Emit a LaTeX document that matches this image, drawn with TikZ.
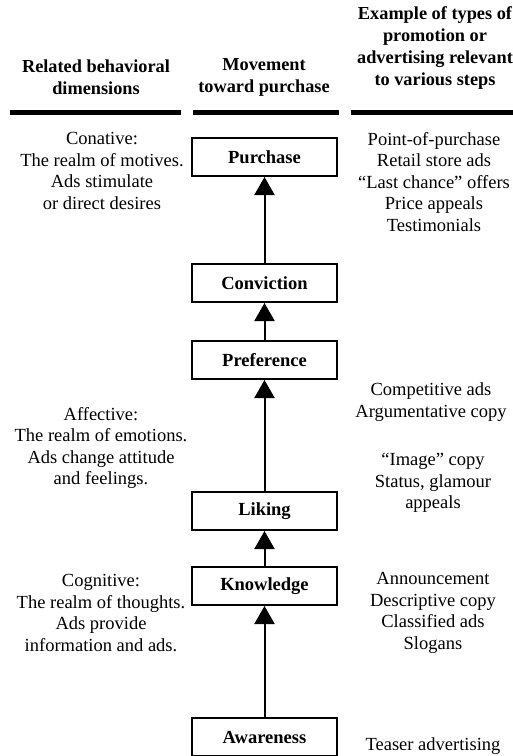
\documentclass[tikz,border=0pt]{standalone}
\usepackage{fontspec}
\setmainfont{Liberation Serif}
\usetikzlibrary{positioning,arrows.meta}

\begin{document}
\begin{tikzpicture}[x=1pt,y=-1pt,
        stage/.style={draw,line width=2pt,minimum width=145pt,minimum height=38pt,inner sep=0pt,font=\fontsize{18.5}{21.5}\selectfont\bfseries},
        txt/.style={align=center,inner sep=0pt,font=\fontsize{18.5}{21.5}\selectfont},
        head/.style={align=center,inner sep=0pt,font=\fontsize{18.3}{22}\selectfont\bfseries},
        bar/.style={line width=5pt},
        up/.style={line width=2pt,-{Triangle[width=20pt,length=18pt]}}]
    \useasboundingbox (0,0) rectangle (513,756);
    \node[head] (dimhead) at (96,77.5) {Related behavioral\\dimensions};
    \node[head] (movehead) at (264,77.5) {Movement\\toward purchase};
    \node[head] (promohead) at (435,48.5) {Example of types of\\promotion or\\advertising relevant\\to various steps};
    \draw[bar] (10,112.5) -- (181,112.5);
    \draw[bar] (193,112.5) -- (339,112.5);
    \draw[bar] (351,112.5) -- (520,112.5);
    \node[stage] (purchase) at (264.5,157) {Purchase};
    \node[stage] (conviction) at (264.5,283) {Conviction};
    \node[stage] (preference) at (264.5,360) {Preference};
    \node[stage] (liking) at (264.5,511) {Liking};
    \node[stage] (knowledge) at (264.5,586) {Knowledge};
    \node[stage] (awareness) at (264.5,737) {Awareness};
    \draw[up] (awareness) -- (knowledge);
    \draw[up] (knowledge) -- (liking);
    \draw[up] (liking) -- (preference);
    \draw[up] (preference) -- (conviction);
    \draw[up] (conviction) -- (purchase);
    \node[txt] (conative) at (102,171) {Conative:\\The realm of motives.\\Ads stimulate\\or direct desires};
    \node[txt] (affective) at (101,448) {Affective:\\The realm of emotions.\\Ads change attitude\\and feelings.};
    \node[txt] (cognitive) at (101,613) {Cognitive:\\The realm of thoughts.\\Ads provide\\information and ads.};
    \node[txt] (purchaseads) at (434,182) {Point-of-purchase\\Retail store ads\\“Last chance” offers\\Price appeals\\Testimonials};
    \node[txt] (competads) at (431,402) {Competitive ads\\Argumentative copy};
    \node[txt] (imageads) at (433,483) {“Image” copy\\Status, glamour\\appeals};
    \node[txt] (announceads) at (433,613) {Announcement\\Descriptive copy\\Classified ads\\Slogans};
    \node[txt] (teaser) at (433,746) {Teaser advertising};
\end{tikzpicture}
\end{document}
